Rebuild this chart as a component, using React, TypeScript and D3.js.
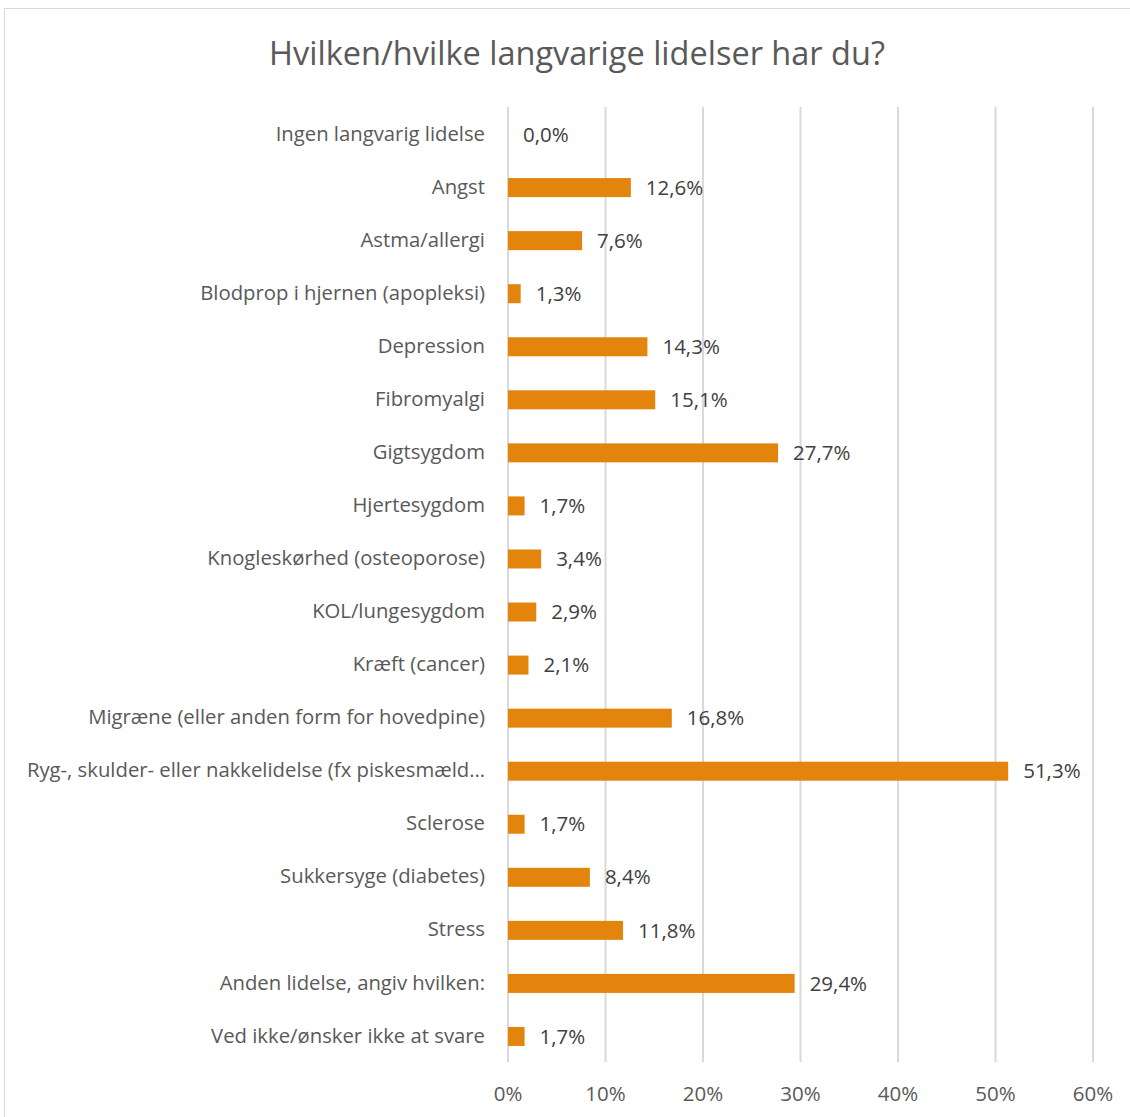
import React, { useRef, useEffect } from 'react';
import * as d3 from 'd3';

const categories = [
  'Ingen langvarig lidelse',
  'Angst',
  'Astma/allergi',
  'Blodprop i hjernen (apopleksi)',
  'Depression',
  'Fibromyalgi',
  'Gigtsygdom',
  'Hjertesygdom',
  'Knogleskørhed (osteoporose)',
  'KOL/lungesygdom',
  'Kræft (cancer)',
  'Migræne (eller anden form for hovedpine)',
  'Ryg-, skulder- eller nakkelidelse (fx piskesmæld…',
  'Sclerose',
  'Sukkersyge (diabetes)',
  'Stress',
  'Anden lidelse, angiv hvilken:',
  'Ved ikke/ønsker ikke at svare',
];
const values = [0.0, 12.6, 7.6, 1.3, 14.3, 15.1, 27.7, 1.7, 3.4, 2.9, 2.1, 16.8, 51.3, 1.7, 8.4, 11.8, 29.4, 1.7];
const ticks = [0, 10, 20, 30, 40, 50, 60];

const fmt = (v: number) => v.toFixed(1).replace('.', ',') + '%';

export default function App() {
  const ref = useRef<SVGSVGElement>(null);

  useEffect(() => {
    const W = 1130;
    const H = 1117;
    const left = 508;
    const right = 1093;
    const top = 107;
    const bottom = 1062;
    const font = "'Open Sans', 'Noto Sans', sans-serif";

    const svg = d3.select(ref.current).attr('width', W).attr('height', H);
    svg.selectAll('*').remove();

    svg.append('rect')
      .attr('x', 4.5).attr('y', 8.5)
      .attr('width', 1140).attr('height', 1120)
      .attr('fill', 'white').attr('stroke', '#d9d9d9');

    const x = d3.scaleLinear().domain([0, 60]).range([left, right]);
    const y = d3.scaleBand().domain(categories).range([top, bottom]);

    svg.append('text')
      .attr('x', 577).attr('y', 65)
      .attr('text-anchor', 'middle')
      .attr('font-family', font)
      .attr('font-size', 32.5)
      .attr('fill', '#595959')
      .text('Hvilken/hvilke langvarige lidelser har du?');

    // gridlines
    svg.selectAll('.grid')
      .data(ticks)
      .enter().append('line')
      .attr('x1', d => x(d)).attr('x2', d => x(d))
      .attr('y1', top).attr('y2', bottom)
      .attr('stroke', '#d9d9d9').attr('stroke-width', 2);

    // tick labels
    svg.selectAll('.tick')
      .data(ticks)
      .enter().append('text')
      .attr('x', d => x(d)).attr('y', 1101)
      .attr('text-anchor', 'middle')
      .attr('font-family', font).attr('font-size', 20.5)
      .attr('fill', '#595959')
      .text(d => d + '%');

    const barH = 19;
    svg.selectAll('.bar')
      .data(values)
      .enter().append('rect')
      .attr('x', x(0))
      .attr('y', (d, i) => y(categories[i])! + y.bandwidth() / 2 - barH / 2 + 1)
      .attr('width', d => x(d) - x(0))
      .attr('height', barH)
      .attr('fill', '#e3850c');

    svg.selectAll('.val')
      .data(values)
      .enter().append('text')
      .attr('x', d => x(d) + 15)
      .attr('y', (d, i) => y(categories[i])! + y.bandwidth() / 2 + 1)
      .attr('dy', '0.35em')
      .attr('font-family', font).attr('font-size', 20.5)
      .attr('fill', '#404040')
      .text(d => fmt(d));

    svg.selectAll('.cat')
      .data(categories)
      .enter().append('text')
      .attr('x', 485)
      .attr('y', d => y(d)! + y.bandwidth() / 2)
      .attr('dy', '0.35em')
      .attr('text-anchor', 'end')
      .attr('font-family', font).attr('font-size', 20.3)
      .attr('fill', '#595959')
      .text(d => d);
  }, []);

  return <svg ref={ref} style={{ position: 'absolute', left: 0, top: 0 }}></svg>;
}
